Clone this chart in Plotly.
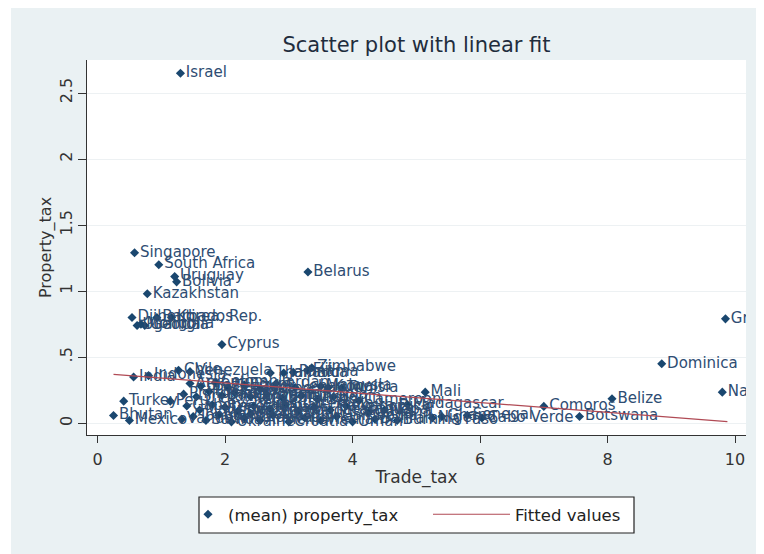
import plotly.graph_objects as go

# ---------------- data ----------------
countries = [
    "Israel", "Singapore", "South Africa", "Uruguay", "Bolivia", "Belarus",
    "Kazakhstan", "Djibouti", "Barbados", "Korea, Rep.", "Uganda", "Mongolia",
    "Georgia", "Cyprus", "Grenada", "Dominica", "Namibia", "Belize", "Comoros",
    "Botswana", "Cabo Verde", "Mali", "Madagascar", "Zimbabwe", "Tunisia",
    "India", "Indonesia", "Chile", "Venezuela", "Turkey", "Bhutan", "Mexico",
    "Peru", "Thailand", "Jamaica", "Panama", "Fiji", "Kuwait", "Ghana",
    "Senegal", "Nepal",
    "Argentina", "Brazil", "Colombia", "Ecuador", "Egypt", "Morocco", "Jordan",
    "Lebanon", "Malaysia", "Philippines", "Sri Lanka", "Pakistan", "Bangladesh",
    "Kenya", "Tanzania", "Rwanda", "Burundi", "Ethiopia", "Togo", "Benin",
    "Cameroon", "Gabon", "Mauritius", "Seychelles", "Lesotho", "Swaziland",
    "Zambia", "Malawi", "Guatemala", "Honduras", "El Salvador", "Nicaragua",
    "Costa Rica", "Guyana", "Vanuatu", "Tonga", "Samoa", "Maldives", "Ukraine",
    "Moldova", "Armenia", "Albania", "Croatia", "China", "Vietnam", "Cambodia",
    "Oman", "Bahrain", "Burkina Faso", "Niger", "St. Lucia",
]
trade_tax = [
    1.30, 0.58, 0.96, 1.21, 1.24, 3.30,
    0.78, 0.54, 0.93, 1.16, 0.62, 0.68,
    0.74, 1.95, 9.85, 8.85, 9.80, 8.07, 7.00,
    7.56, 6.03, 5.14, 4.86, 3.36, 3.83,
    0.565, 0.80, 1.27, 1.45, 0.41, 0.25, 0.50,
    1.14, 2.71, 2.92, 3.07, 3.29, 3.62, 5.40,
    5.80, 4.50,
    1.45, 1.62, 1.85, 2.05, 2.30, 2.55, 2.80,
    3.10, 3.50, 1.35, 1.55, 1.75, 1.95,
    2.15, 2.40, 2.65, 2.90, 3.20, 3.45, 3.70,
    4.10, 1.40, 1.60, 1.80, 2.00, 2.20,
    2.45, 2.70, 2.95, 3.15, 3.40, 3.65,
    3.90, 4.25, 1.32, 1.50, 1.70, 1.90, 2.10,
    2.30, 2.55, 2.75, 3.00, 3.25, 3.50, 3.75,
    4.00, 4.35, 4.70, 5.25, 2.40,
]
property_tax = [
    2.65, 1.29, 1.20, 1.11, 1.07, 1.145,
    0.98, 0.80, 0.80, 0.80, 0.74, 0.75,
    0.74, 0.595, 0.79, 0.45, 0.235, 0.185, 0.127,
    0.051, 0.04, 0.235, 0.142, 0.42, 0.268,
    0.35, 0.36, 0.40, 0.39, 0.167, 0.058, 0.02,
    0.167, 0.38, 0.38, 0.385, 0.40, 0.27, 0.05,
    0.06, 0.10,
    0.30, 0.28, 0.31, 0.27, 0.29, 0.26, 0.30,
    0.27, 0.28, 0.22, 0.20, 0.24, 0.21,
    0.23, 0.20, 0.22, 0.19, 0.21, 0.18, 0.20,
    0.17, 0.13, 0.10, 0.14, 0.12, 0.09,
    0.13, 0.11, 0.14, 0.09, 0.12, 0.10,
    0.13, 0.08, 0.03, 0.05, 0.02, 0.06, 0.01,
    0.04, 0.02, 0.06, 0.01, 0.04, 0.02, 0.05,
    0.01, 0.03, 0.02, 0.04, 0.07,
]

# fitted line end points
fit_x = [0.25, 9.88]
fit_y = [0.370, 0.012]

x_tick_vals = [0, 2, 4, 6, 8, 10]
x_tick_text = ["0", "2", "4", "6", "8", "10"]
y_tick_vals = [0, 0.5, 1, 1.5, 2, 2.5]
y_tick_text = ["0", ".5", "1", "1.5", "2", "2.5"]

# ---------------- figure ----------------
FONT = "DejaVu Sans"
NAVY = "#1A476F"

fig = go.Figure()
fig.add_trace(go.Scatter(
    x=trade_tax, y=property_tax, text=countries,
    mode="markers+text", textposition="middle right",
    marker=dict(symbol="diamond", size=7, color=NAVY),
    textfont=dict(family=FONT, size=15, color="#2E4D73"),
    name="(mean) property_tax",
    cliponaxis=True,
    showlegend=True,
    legend="legend",
))
fig.add_trace(go.Scatter(
    x=fit_x, y=fit_y, mode="lines",
    line=dict(color="#B04A55", width=1.2),
    name="Fitted values",
    showlegend=True,
    legend="legend2",
))

# the page is drawn with an 8px body margin, so the figure is 8px smaller
OFF = 8
W, H = 764 - OFF, 554 - OFF
L, R, T, B = 79, 18, 52, 119
pw, ph = W - L - R, H - T - B


def px_x(p):
    return (p - L) / pw


def px_y(p):
    return (H - B - p) / ph


LEG_TOP, LEG_BOT = 497 - OFF, 533 - OFF
legend_common = dict(
    orientation="h", xanchor="left", yanchor="top", y=px_y(LEG_TOP),
    borderwidth=0, bgcolor="rgba(0,0,0,0)",
    font=dict(family=FONT, size=16.5, color="#222222"),
)

fig.update_layout(
    width=W, height=H,
    showlegend=True,
    margin=dict(l=L, r=R, t=T, b=B, autoexpand=False),
    paper_bgcolor="#EAF1F3",
    plot_bgcolor="white",
    font=dict(family=FONT, color="#333333"),
    title=dict(
        text="Scatter plot with linear fit",
        x=0.5, xref="paper", xanchor="center",
        y=1 - 37 / H, yref="container", yanchor="middle",
        font=dict(family=FONT, size=21, color="#1F2D3D"),
    ),
    xaxis=dict(
        range=[-0.166, 10.172],
        tickvals=x_tick_vals, ticktext=x_tick_text,
        ticks="outside", ticklen=7, tickcolor="#333333",
        ticklabelstandoff=3,
        showline=True, linecolor="#333333", linewidth=1,
        showgrid=False, zeroline=False, automargin=False,
        tickfont=dict(size=16, color="#333333"),
        title=dict(text="Trade_tax", font=dict(size=17, color="#333333"), standoff=2),
    ),
    yaxis=dict(
        range=[-0.0895, 2.75],
        tickvals=y_tick_vals, ticktext=y_tick_text, tickangle=-90,
        ticks="outside", ticklen=8, tickcolor="#333333",
        ticklabelstandoff=0,
        showline=True, linecolor="#333333", linewidth=1,
        showgrid=True, gridcolor="#EDF1F3", gridwidth=1,
        zeroline=False, automargin=False,
        tickfont=dict(size=16, color="#333333"),
        title=dict(text="Property_tax", font=dict(size=16, color="#333333"), standoff=0),
    ),
    legend=dict(x=px_x(188 - OFF), visible=True, **legend_common),
    legend2=dict(x=px_x(428 - OFF), itemwidth=77, visible=True, **legend_common),
    shapes=[
        dict(type="rect", xref="paper", yref="paper",
             x0=px_x(0), x1=px_x(11 - OFF), y0=px_y(H), y1=px_y(0),
             fillcolor="white", line=dict(width=0), layer="below"),
        dict(type="rect", xref="paper", yref="paper",
             x0=px_x(199 - OFF), x1=px_x(634 - OFF),
             y0=px_y(LEG_BOT), y1=px_y(LEG_TOP),
             fillcolor="white", line=dict(color="#222222", width=1.2),
             layer="below"),
    ],
)

fig.write_html("out.html")
